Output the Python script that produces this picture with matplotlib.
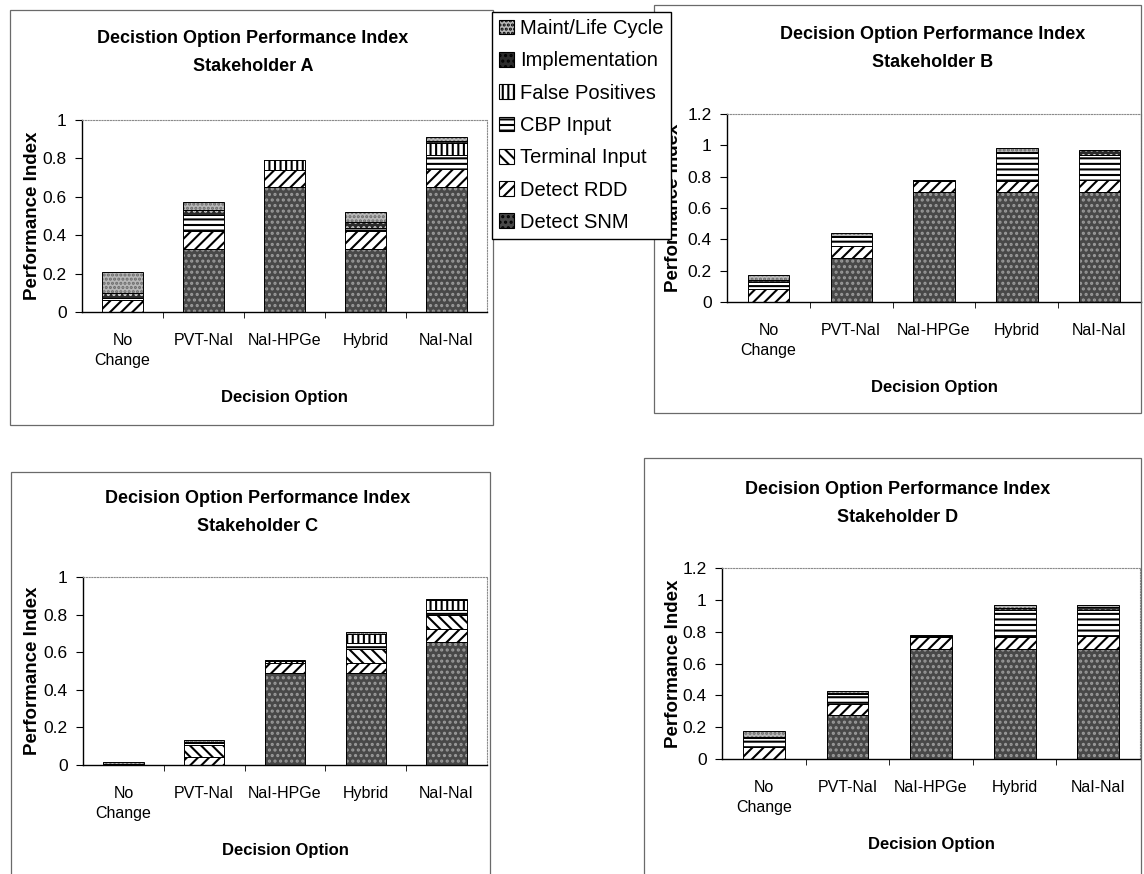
import numpy as np
import matplotlib.pyplot as plt
from matplotlib.patches import Patch, Rectangle

plt.rcParams['hatch.linewidth'] = 1.5

options = ['No\nChange', 'PVT-NaI', 'NaI-HPGe', 'Hybrid', 'NaI-NaI']
criteria = ['Detect SNM', 'Detect RDD', 'Terminal Input', 'CBP Input',
            'False Positives', 'Implementation', 'Maint/Life Cycle']

# one row per criterion (stack order, bottom first), one column per option
stakeholder_a = [
    [0.00, 0.33, 0.65, 0.33, 0.65],
    [0.06, 0.09, 0.09, 0.09, 0.095],
    [0.00, 0.00, 0.00, 0.00, 0.00],
    [0.015, 0.085, 0.00, 0.016, 0.075],
    [0.00, 0.00, 0.05, 0.00, 0.06],
    [0.025, 0.025, 0.00, 0.034, 0.01],
    [0.11, 0.045, 0.00, 0.05, 0.02],
]
stakeholder_b = [
    [0.00, 0.28, 0.70, 0.70, 0.70],
    [0.08, 0.075, 0.07, 0.075, 0.08],
    [0.00, 0.00, 0.00, 0.00, 0.00],
    [0.05, 0.06, 0.00, 0.175, 0.16],
    [0.00, 0.00, 0.00, 0.00, 0.00],
    [0.01, 0.005, 0.01, 0.01, 0.03],
    [0.035, 0.02, 0.00, 0.02, 0.00],
]
stakeholder_c = [
    [0.00, 0.00, 0.49, 0.49, 0.655],
    [0.00, 0.04, 0.055, 0.055, 0.07],
    [0.00, 0.065, 0.00, 0.07, 0.075],
    [0.00, 0.01, 0.00, 0.035, 0.025],
    [0.00, 0.00, 0.01, 0.045, 0.055],
    [0.005, 0.005, 0.005, 0.00, 0.00],
    [0.012, 0.015, 0.00, 0.015, 0.005],
]
stakeholder_d = [
    [0.00, 0.275, 0.69, 0.69, 0.69],
    [0.075, 0.07, 0.075, 0.075, 0.08],
    [0.00, 0.00, 0.00, 0.00, 0.00],
    [0.055, 0.065, 0.00, 0.17, 0.165],
    [0.00, 0.00, 0.00, 0.00, 0.00],
    [0.01, 0.005, 0.01, 0.015, 0.02],
    [0.035, 0.015, 0.005, 0.02, 0.015],
]

# fill colour, hatch colour, hatch pattern for each criterion
styles = [
    ('#484848', '#9a9a9a', '...'),
    ('white', 'black', '///'),
    ('white', 'black', '\\\\\\'),
    ('white', 'black', '---'),
    ('white', 'black', '|||'),
    ('#2b2b2b', '#d0d0d0', '...'),
    ('#b8b8b8', '#6a6a6a', '....'),
]

NARROW = ['Liberation Sans Narrow', 'Liberation Sans', 'DejaVu Sans']
W, H = 1144, 874

fig = plt.figure(figsize=(W / 100, H / 100), dpi=100)


def px_rect(left, top, right, bottom):
    """Figure-fraction rectangle from pixel edges"""
    return [left / W, 1 - bottom / H, (right - left) / W, (bottom - top) / H]


def draw_panel(box, plot, values, ymax, title, title_xy, ylab_x):
    # chart frame
    l, t, r, b = box
    fig.add_artist(Rectangle((l / W, 1 - b / H), (r - l) / W, (b - t) / H,
                             transform=fig.transFigure, fill=False,
                             edgecolor='#6a6a6a', linewidth=0.9))

    ax = fig.add_axes(px_rect(*plot))
    x = np.arange(len(options))
    bottom = np.zeros(len(options))
    for row, (face, hcol, hatch) in zip(values, styles):
        row = np.asarray(row, dtype=float)
        keep = row > 0
        ax.bar(x[keep], row[keep], 0.5, bottom=bottom[keep], color=face,
               edgecolor=hcol, hatch=hatch, linewidth=0)
        ax.bar(x[keep], row[keep], 0.5, bottom=bottom[keep], fill=False,
               edgecolor='black', linewidth=0.7)
        bottom += row

    ax.set_xlim(-0.5, len(options) - 0.5)
    ax.set_ylim(0, ymax)
    ticks = np.arange(0, ymax + 0.01, 0.2)
    ax.set_yticks(ticks)
    ax.set_yticklabels([f'{v:g}' for v in ticks])
    ax.set_xticks(x)
    ax.set_xticklabels(options, fontsize=11.5, family=NARROW, linespacing=1.45)
    ax.set_xticks(np.arange(0.5, len(options) - 1), minor=True)
    ax.tick_params(axis='x', which='major', length=0, pad=15)
    ax.tick_params(axis='x', which='minor', length=4, direction='out')
    ax.tick_params(axis='y', length=5, direction='out', labelsize=12.5, pad=6)
    for lbl in ax.get_yticklabels():
        lbl.set_family(NARROW)

    for side in ('top', 'right'):
        ax.spines[side].set_linestyle((0, (1, 1.5)))
        ax.spines[side].set_color('#8a8a8a')
        ax.spines[side].set_linewidth(0.8)
    for side in ('left', 'bottom'):
        ax.spines[side].set_linewidth(1.0)

    ax.set_xlabel('Decision Option', fontsize=12, fontweight='bold',
                  family=NARROW, labelpad=16)
    fig.text(ylab_x / W, 1 - (plot[1] + plot[3]) / 2 / H, 'Performance Index',
             rotation=90, ha='center', va='center', fontsize=13.5,
             fontweight='bold', family=NARROW)

    tx, ty = title_xy
    fig.text(tx / W, 1 - ty / H, title, ha='center', va='top', fontsize=13,
             fontweight='bold', family=NARROW, linespacing=1.85)
    return ax


draw_panel((10, 10, 493, 425), (82, 120, 487, 312), stakeholder_a, 1.0,
           'Decistion Option Performance Index\nStakeholder A', (253, 30), 33)
draw_panel((654, 5, 1141, 413), (727, 114, 1141, 302), stakeholder_b, 1.2,
           'Decision Option Performance Index\nStakeholder B', (933, 26), 674)
draw_panel((11, 472, 490, 880), (83, 577, 487, 765), stakeholder_c, 1.0,
           'Decision Option Performance Index\nStakeholder C', (258, 490), 33)
draw_panel((644, 458, 1141, 880), (722, 568, 1140, 759), stakeholder_d, 1.2,
           'Decision Option Performance Index\nStakeholder D', (898, 481), 674)

# shared legend, top criterion listed first
handles = [Patch(facecolor=face, edgecolor=hcol, hatch=hatch, linewidth=0)
           for face, hcol, hatch in styles][::-1]
leg = fig.legend(handles, criteria[::-1], loc='upper left',
                 bbox_to_anchor=(492 / W, 1 - 12 / H), borderaxespad=0,
                 prop={'family': 'Liberation Sans', 'size': 14.5},
                 labelspacing=0.66, handlelength=0.75, handleheight=0.75,
                 handletextpad=0.3, borderpad=0.35, fancybox=False,
                 edgecolor='black', framealpha=1)
leg.get_frame().set_linewidth(1.0)
for h in leg.legend_handles:
    h.set_edgecolor('black')
    h.set_linewidth(0.8)

fig.savefig('out.png', dpi=100)
